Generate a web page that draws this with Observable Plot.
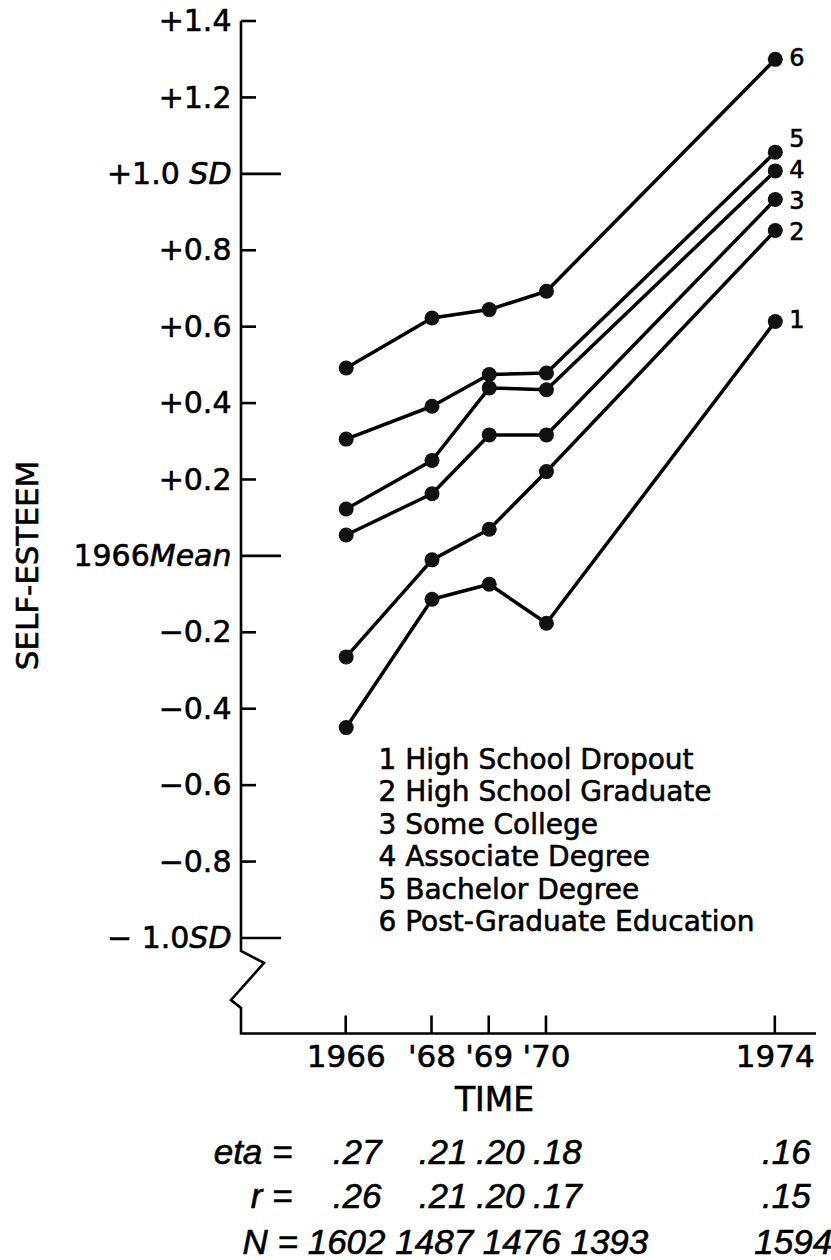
<!DOCTYPE html>
<html><head><meta charset="utf-8">
<script src="https://cdn.jsdelivr.net/npm/d3@7"></script>
<script src="https://cdn.jsdelivr.net/npm/@observablehq/plot@0.6"></script>
<style>body{margin:0;background:#fff} #chart svg text{stroke:#000;stroke-width:0.6px}</style>
</head><body><div id="chart"></div>
<script>
// ---- data ----
const times = [1966.5, 1968, 1969, 1970, 1974];
const timeLabels = ["1966", "'68", "'69", "'70", "1974"];
const seriesIds = [1, 2, 3, 4, 5, 6];
const seriesNames = ["High School Dropout", "High School Graduate", "Some College",
  "Associate Degree", "Bachelor Degree", "Post-Graduate Education"];
const s1 = [-0.448, -0.112, -0.073, -0.175, 0.615];
const s2 = [-0.263, -0.009, 0.071, 0.222, 0.853];
const s3 = [0.056, 0.164, 0.318, 0.318, 0.934];
const s4 = [0.124, 0.251, 0.441, 0.436, 1.009];
const s5 = [0.307, 0.393, 0.476, 0.480, 1.058];
const s6 = [0.493, 0.624, 0.646, 0.694, 1.301];
const yTicks = [1.4, 1.2, 1.0, 0.8, 0.6, 0.4, 0.2, 0, -0.2, -0.4, -0.6, -0.8, -1.0];
const yTickLabels = ["+1.4", "+1.2", "+1.0 SD", "+0.8", "+0.6", "+0.4", "+0.2", "1966Mean",
  "\u22120.2", "\u22120.4", "\u22120.6", "\u22120.8", "\u2212 1.0SD"];
const majorTicks = [1.0, 0, -1.0];
const etaVals = [".27", ".21", ".20", ".18", ".16"];
const rVals = [".26", ".21", ".20", ".17", ".15"];
const nVals = ["1602", "1487", "1476", "1393", "1594"];

const allSeries = [s1, s2, s3, s4, s5, s6];
const rows = allSeries.flatMap((vals, i) =>
  times.map((t, j) => ({series: seriesIds[i], time: t, value: vals[j]})));
const lastRows = rows.filter(d => d.time === times[times.length - 1]);

// ---- layout ----
const W = 831, H = 1260;
const xDomain = [1964.67, 1974.72], yDomain = [-1.25, 1.4];
const ml = 241, mr = 15, mt = 21, mb = 226.5;
const font = "DejaVu Sans";
const ital = "Liberation Sans";
const frameBottom = H - mb;

function frameMark(index, scales) {
  const x = scales.x, y = scales.y;
  const g = d3.create("svg:g").attr("fill", "none").attr("stroke", "black")
    .attr("stroke-width", 2.6);
  const x0 = x(xDomain[0]), x1 = x(xDomain[1]);
  const yb = y(yDomain[0]), yt = y(yDomain[1]);
  const ys = y(-1.034);
  g.append("path").attr("stroke-linejoin", "miter")
    .attr("d", `M${x0},${yt}V${ys}l23,12l-33,37l10,8V${yb}H${x1}`);
  for (const v of yTicks) {
    const len = majorTicks.includes(v) ? 40 : 15;
    g.append("path").attr("d", `M${x0},${y(v)}h${len}`);
  }
  for (const t of times) {
    g.append("path").attr("d", `M${x(t)},${yb}v-18`);
  }
  return g.node();
}

const legendText = seriesIds.map((id, i) => `${id} ${seriesNames[i]}`).join("\n");
const endLabel = (filter, dy) => Plot.text(lastRows.filter(filter), {
  x: "time", y: "value", text: d => String(d.series),
  dx: 14, dy, textAnchor: "start", fontSize: 24});

const plot = Plot.plot({
  width: W, height: H,
  marginLeft: ml, marginRight: mr, marginTop: mt, marginBottom: mb,
  x: {domain: xDomain},
  y: {domain: yDomain},
  style: {fontFamily: font, background: "white", color: "black"},
  marks: [
    frameMark,
    Plot.axisY({ticks: yTicks, tickFormat: d => yTickLabels[yTicks.indexOf(d)],
      tickSize: 0, tickPadding: 10, fontSize: 30, label: null}),
    Plot.axisX({ticks: times, tickFormat: d => timeLabels[times.indexOf(d)],
      tickSize: 0, tickPadding: 11, fontSize: 31, label: null}),
    Plot.line(rows, {x: "time", y: "value", z: "series", stroke: "black", strokeWidth: 3.5}),
    Plot.dot(rows, {x: "time", y: "value", r: 7.5, fill: "#111", stroke: "none"}),
    endLabel(d => d.series === 5, -13),
    endLabel(d => d.series === 2 || d.series === 3, 2),
    endLabel(d => d.series === 1 || d.series === 4 || d.series === 6, -1),
    Plot.text([legendText], {frameAnchor: "top-left", dx: 378 - ml, dy: 745 - mt,
      lineAnchor: "top", textAnchor: "start", fontSize: 28, lineHeight: 32.5 / 28}),
    Plot.text(["SELF-ESTEEM"], {frameAnchor: "left", dx: 28 - ml, dy: 565 - (mt + frameBottom) / 2,
      rotate: -90, textAnchor: "middle", fontSize: 31}),
    Plot.text(["TIME"], {frameAnchor: "bottom-left", dx: 494 - ml, dy: 1110 - frameBottom,
      textAnchor: "middle", lineAnchor: "bottom", fontSize: 33}),
    // eta row
    Plot.text(["eta ="], {frameAnchor: "bottom-left", dx: 292 - ml, dy: 1163 - frameBottom,
      textAnchor: "end", lineAnchor: "bottom", fontSize: 35, fontStyle: "italic", fontFamily: ital}),
    Plot.text(times, {x: d => d, frameAnchor: "bottom", text: (d, i) => etaVals[i], dx: 11,
      dy: 1163 - frameBottom, textAnchor: "middle", lineAnchor: "bottom", fontSize: 35,
      fontStyle: "italic", fontFamily: ital}),
    // r row
    Plot.text(["r ="], {frameAnchor: "bottom-left", dx: 292 - ml, dy: 1207 - frameBottom,
      textAnchor: "end", lineAnchor: "bottom", fontSize: 35, fontStyle: "italic", fontFamily: ital}),
    Plot.text(times, {x: d => d, frameAnchor: "bottom", text: (d, i) => rVals[i], dx: 11,
      dy: 1207 - frameBottom, textAnchor: "middle", lineAnchor: "bottom", fontSize: 35,
      fontStyle: "italic", fontFamily: ital}),
    // N row
    Plot.text(["N = " + nVals.slice(0, 4).join(" ")], {frameAnchor: "bottom-left", dx: 242 - ml,
      dy: 1253 - frameBottom, textAnchor: "start", lineAnchor: "bottom", fontSize: 35,
      fontStyle: "italic", fontFamily: ital}),
    Plot.text([times[4]], {x: d => d, frameAnchor: "bottom", text: () => nVals[4], dx: 18,
      dy: 1253 - frameBottom, textAnchor: "middle", lineAnchor: "bottom", fontSize: 35,
      fontStyle: "italic", fontFamily: ital})
  ]
});

// italicize "SD" and "Mean" in y tick labels
plot.querySelectorAll('[aria-label="y-axis tick label"] text').forEach(t => {
  const s = t.textContent;
  const m = s.match(/^(.*?)(SD|Mean)$/);
  if (m) {
    t.textContent = "";
    const a = document.createElementNS("http://www.w3.org/2000/svg", "tspan");
    a.textContent = m[1];
    const b = document.createElementNS("http://www.w3.org/2000/svg", "tspan");
    b.textContent = m[2];
    b.setAttribute("font-style", "italic");
    t.appendChild(a); t.appendChild(b);
  }
});

document.getElementById("chart").appendChild(plot);
</script>
</body></html>
